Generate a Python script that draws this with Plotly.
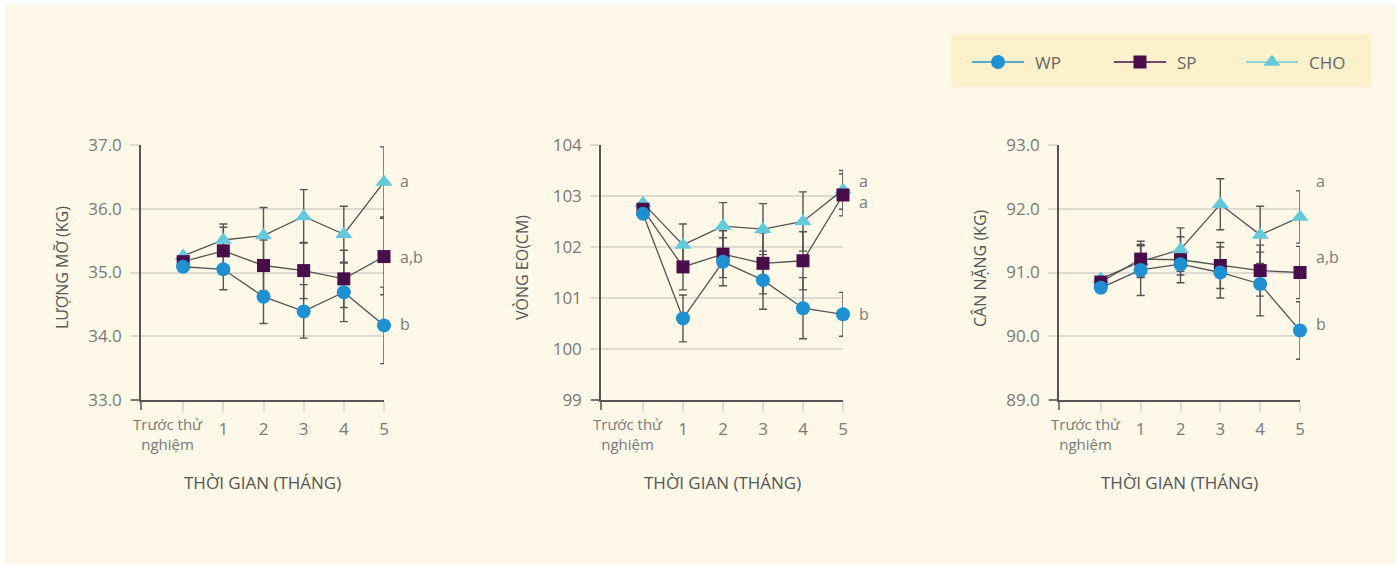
import plotly.graph_objects as go

# ---- data -------------------------------------------------------------
months = [0, 1, 2, 3, 4, 5]
month_labels = ["", "1", "2", "3", "4", "5"]
baseline_label = "Trước thử<br>nghiệm"

series_names = ["WP", "SP", "CHO"]

fat_wp = [35.09, 35.05, 34.62, 34.39, 34.69, 34.17]
fat_sp = [35.17, 35.34, 35.11, 35.03, 34.90, 35.25]
fat_cho = [35.26, 35.51, 35.58, 35.88, 35.60, 36.42]
fat_wp_err = [0, 0.32, 0.42, 0.42, 0.46, 0.60]
fat_sp_err = [0, 0.37, 0.40, 0.44, 0.45, 0.60]
fat_cho_err = [0, 0.25, 0.44, 0.42, 0.44, 0.55]

waist_wp = [102.65, 100.60, 101.71, 101.35, 100.80, 100.68]
waist_sp = [102.74, 101.61, 101.86, 101.68, 101.73, 103.02]
waist_cho = [102.86, 102.04, 102.41, 102.35, 102.50, 103.12]
waist_wp_err = [0, 0.46, 0.47, 0.57, 0.60, 0.43]
waist_sp_err = [0, 0.45, 0.46, 0.60, 0.57, 0.41]
waist_cho_err = [0, 0.41, 0.46, 0.50, 0.58, 0.38]

weight_wp = [90.76, 91.04, 91.13, 91.00, 90.82, 90.09]
weight_sp = [90.85, 91.21, 91.20, 91.11, 91.03, 91.00]
weight_cho = [90.90, 91.17, 91.36, 92.07, 91.59, 91.87]
weight_wp_err = [0, 0.40, 0.17, 0.40, 0.50, 0.45]
weight_sp_err = [0, 0.28, 0.36, 0.36, 0.40, 0.41]
weight_cho_err = [0, 0.25, 0.34, 0.40, 0.45, 0.41]

y_titles = ["LƯỢNG MỠ (KG)", "VÒNG EO(CM)", "CÂN NẶNG (KG)"]
x_title = "THỜI GIAN (THÁNG)"
y_ranges = [[33, 37], [99, 104], [89, 93]]
y_formats = [".1f", "d", ".1f"]

# significance letters: (text, y value)
fat_letters = [("a", 36.44), ("a,b", 35.24), ("b", 34.19)]
waist_letters = [("a<br>a", 103.08), ("b", 100.69)]
weight_letters = [("a", 92.44), ("a,b", 91.24), ("b", 90.19)]

panels = [
    dict(vals=[fat_wp, fat_sp, fat_cho], errs=[fat_wp_err, fat_sp_err, fat_cho_err], letters=fat_letters),
    dict(vals=[waist_wp, waist_sp, waist_cho], errs=[waist_wp_err, waist_sp_err, waist_cho_err], letters=waist_letters),
    dict(vals=[weight_wp, weight_sp, weight_cho], errs=[weight_wp_err, weight_sp_err, weight_cho_err], letters=weight_letters),
]

# ---- styling ----------------------------------------------------------
W, H = 1396, 564
FONT = "Open Sans"
colors = {"WP": "#1f91d2", "SP": "#4a0d4b", "CHO": "#64cadb"}
symbols = {"WP": "circle", "SP": "square", "CHO": "triangle-up"}
msize = {"WP": 14, "SP": 13, "CHO": 15}
DARK = "#555555"
GRID = "#dedbd3"
TICK_TXT = "#7a7a7a"
TITLE_TXT = "#555555"

panel_x_px = [(141, 384), (601, 843), (1059, 1300)]
plot_top, plot_bottom = 145, 400


def fx(p):
    return p / W


def fy(p):
    return 1 - p / H


fig = go.Figure()
shapes = []
annotations = []

# page background
shapes.append(dict(type="rect", xref="paper", yref="paper", x0=fx(5), x1=1, y0=0, y1=fy(5),
                   fillcolor="#fef8e8", line=dict(width=0), layer="below"))

for i, panel in enumerate(panels):
    k = "" if i == 0 else str(i + 1)
    xa, ya = "x" + k, "y" + k
    x0p, x1p = panel_x_px[i]

    # connecting lines + error bars (drawn under every marker)
    for name, v, e in zip(series_names[::-1], panel["vals"][::-1], panel["errs"][::-1]):
        fig.add_trace(go.Scatter(
            x=months, y=v, mode="lines", xaxis=xa, yaxis=ya, cliponaxis=False,
            line=dict(color=DARK, width=1.3),
            error_y=dict(type="data", array=e, color=DARK, thickness=1.4, width=4),
            showlegend=False, hoverinfo="skip"))
    # markers
    for name, v in zip(series_names[::-1], panel["vals"][::-1]):
        fig.add_trace(go.Scatter(
            x=months, y=v, mode="markers", xaxis=xa, yaxis=ya, cliponaxis=False, name=name,
            marker=dict(color=colors[name], symbol=symbols[name], size=msize[name], line=dict(width=0)),
            showlegend=False))

    fig.layout["xaxis" + k] = dict(
        domain=[fx(x0p), fx(x1p)], range=[-1.05, 5], anchor=ya, automargin=False,
        tickmode="array", tickvals=months, ticktext=month_labels,
        ticks="outside", ticklen=10, tickwidth=1.5, tickcolor=GRID, ticklabelstandoff=3,
        showline=True, linecolor=DARK, linewidth=1.5,
        showgrid=False, zeroline=False,
        tickfont=dict(family=FONT, size=17, color=TICK_TXT))
    fig.layout["yaxis" + k] = dict(
        domain=[fy(plot_bottom), fy(plot_top)], range=y_ranges[i], anchor=xa, automargin=False,
        dtick=1, tickformat=y_formats[i],
        ticks="outside", ticklen=9, tickwidth=1.5, tickcolor=GRID, ticklabelstandoff=5,
        showline=True, linecolor=DARK, linewidth=1.5,
        showgrid=True, gridcolor=GRID, gridwidth=1.5, zeroline=False,
        tickfont=dict(family=FONT, size=17, color=TICK_TXT))

    # axis line extensions past the origin
    shapes.append(dict(type="line", xref="paper", yref="paper",
                       x0=fx(x0p - 10), x1=fx(x0p), y0=fy(plot_bottom), y1=fy(plot_bottom),
                       line=dict(color=DARK, width=1.5)))
    shapes.append(dict(type="line", xref="paper", yref="paper",
                       x0=fx(x0p), x1=fx(x0p), y0=fy(plot_bottom), y1=fy(plot_bottom + 10),
                       line=dict(color=DARK, width=1.5)))

    # baseline tick label
    annotations.append(dict(text=baseline_label, xref=xa, yref="paper", x=months[0], xshift=-15,
                            y=fy(434), yanchor="middle", showarrow=False,
                            font=dict(family=FONT, size=15, color=TICK_TXT)))
    # axis titles
    annotations.append(dict(text=x_title, xref=xa + " domain", yref="paper", x=0.5, y=fy(482),
                            yanchor="middle", showarrow=False,
                            font=dict(family=FONT, size=17, color=TITLE_TXT)))
    annotations.append(dict(text=y_titles[i], xref="paper", yref="paper", x=fx(x0p - 79), y=fy(268),
                            textangle=-90, showarrow=False, xanchor="center", yanchor="middle",
                            font=dict(family=FONT, size=16, color=TITLE_TXT)))
    # significance letters
    for txt, yv in panel["letters"]:
        annotations.append(dict(text=txt, xref=xa, yref=ya, x=months[-1], y=yv, xshift=14,
                                xanchor="left", yanchor="middle", align="left", showarrow=False,
                                font=dict(family=FONT, size=16, color=TICK_TXT)))

# ---- legend box -------------------------------------------------------
LX0, LX1, LY0, LY1 = 951, 1371, 34, 87
shapes.append(dict(type="rect", xref="paper", yref="paper", x0=fx(LX0), x1=fx(LX1), y0=fy(LY1), y1=fy(LY0),
                   fillcolor="#fdf1cb", line=dict(width=0), layer="below"))
fig.layout["xaxis4"] = dict(domain=[fx(LX0), fx(LX1)], range=[LX0, LX1], visible=False, fixedrange=True,
                            anchor="y4", automargin=False)
fig.layout["yaxis4"] = dict(domain=[fy(LY1), fy(LY0)], range=[LY1, LY0], visible=False, fixedrange=True,
                            anchor="x4", automargin=False)
legend_x = {"WP": 972, "SP": 1114, "CHO": 1246}
legend_cy = 62
for name in series_names:
    x0 = legend_x[name]
    fig.add_trace(go.Scatter(x=[x0, x0 + 52], y=[legend_cy, legend_cy], mode="lines", xaxis="x4", yaxis="y4",
                             line=dict(color=colors[name], width=1.5), showlegend=False, hoverinfo="skip"))
    fig.add_trace(go.Scatter(x=[x0 + 26], y=[legend_cy], mode="markers", xaxis="x4", yaxis="y4",
                             marker=dict(color=colors[name], symbol=symbols[name], size=msize[name]),
                             showlegend=False, hoverinfo="skip"))
    annotations.append(dict(text=name, xref="x4", yref="y4", x=x0 + 61, y=legend_cy, xanchor="left",
                            yanchor="middle", showarrow=False,
                            font=dict(family=FONT, size=17, color="#666666")))

fig.update_layout(
    width=W, height=H,
    margin=dict(l=0, r=0, t=0, b=0, pad=0, autoexpand=False),
    paper_bgcolor="white", plot_bgcolor="rgba(0,0,0,0)",
    shapes=shapes, annotations=annotations,
    showlegend=False,
)

fig.write_html("out.html")
